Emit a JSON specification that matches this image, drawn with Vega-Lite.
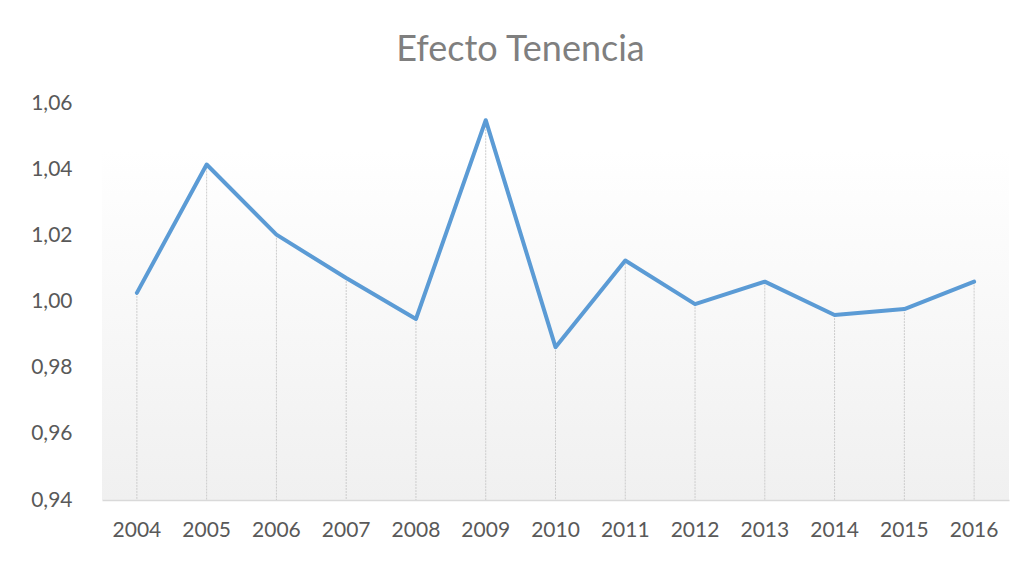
{
  "$schema": "https://vega.github.io/schema/vega-lite/v6.json",
  "width": 907,
  "height": 397,
  "autosize": "none",
  "padding": {"left": 102, "top": 103, "right": 20, "bottom": 61},
  "background": "white",
  "title": {
    "text": "Efecto Tenencia",
    "font": "Lato",
    "fontSize": 36,
    "fontWeight": "normal",
    "color": "#7f7f7f",
    "anchor": "middle",
    "frame": "group",
    "dx": -35,
    "offset": 23
  },
  "config": {
    "view": {
      "stroke": null,
      "fill": {
        "gradient": "linear",
        "x1": 0, "y1": 0, "x2": 0, "y2": 1,
        "stops": [
          {"offset": 0, "color": "#ffffff"},
          {"offset": 0.12, "color": "#ffffff"},
          {"offset": 1, "color": "#f0f0f0"}
        ]
      }
    }
  },
  "data": {
    "values": [
      {"year": "2004", "value": 1.0026},
      {"year": "2005", "value": 1.0414},
      {"year": "2006", "value": 1.0202},
      {"year": "2007", "value": 1.0071},
      {"year": "2008", "value": 0.9947},
      {"year": "2009", "value": 1.0548},
      {"year": "2010", "value": 0.9862},
      {"year": "2011", "value": 1.0124},
      {"year": "2012", "value": 0.9992},
      {"year": "2013", "value": 1.006},
      {"year": "2014", "value": 0.9959},
      {"year": "2015", "value": 0.9977},
      {"year": "2016", "value": 1.006}
    ]
  },
  "encoding": {
    "x": {
      "field": "year",
      "type": "ordinal",
      "scale": {"paddingInner": 0, "paddingOuter": 0},
      "axis": {
        "title": null,
        "labelAngle": 0,
        "labelFont": "Lato",
        "labelFontSize": 21,
        "labelColor": "#595959",
        "labelPadding": 19,
        "ticks": false,
        "domainColor": "#d9d9d9",
        "domainWidth": 1.5,
        "grid": false
      }
    },
    "y": {
      "field": "value",
      "type": "quantitative",
      "scale": {"domain": [0.94, 1.06], "zero": false, "nice": false},
      "axis": {
        "title": null,
        "values": [0.94, 0.96, 0.98, 1.0, 1.02, 1.04, 1.06],
        "labelExpr": "replace(format(datum.value, '.2f'), '.', ',')",
        "labelFont": "Lato",
        "labelFontSize": 21,
        "labelColor": "#595959",
        "labelPadding": 30,
        "ticks": false,
        "domain": false,
        "grid": false
      }
    }
  },
  "layer": [
    {
      "mark": {"type": "rule", "color": "#cccccc", "strokeWidth": 1, "strokeDash": [2, 1]},
      "encoding": {
        "y2": {"datum": 0.94}
      }
    },
    {
      "mark": {"type": "line", "color": "#5b9bd5", "strokeWidth": 4, "strokeCap": "round", "strokeJoin": "round"},
      "encoding": {}
    }
  ]
}
